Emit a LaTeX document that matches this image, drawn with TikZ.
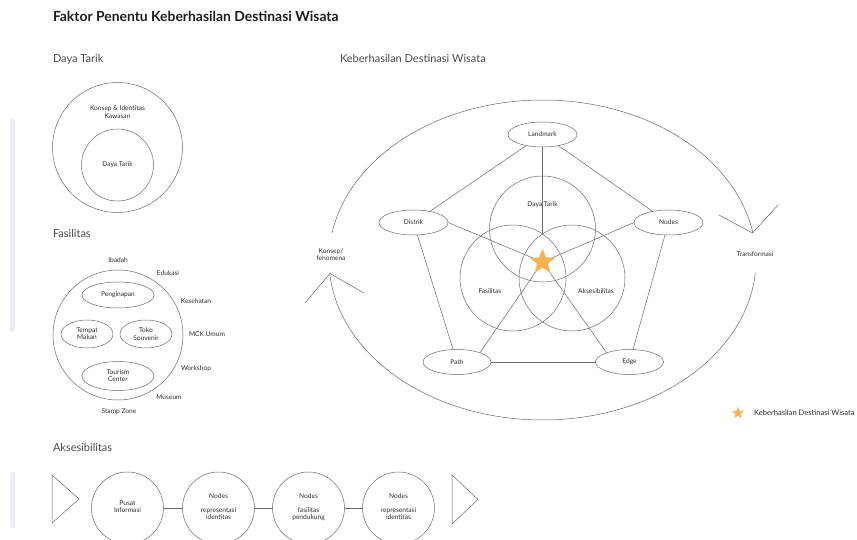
\documentclass[tikz,border=0pt]{standalone}
\usepackage{fontspec}
\setmainfont{Lato}
\usetikzlibrary{shapes.geometric}
\definecolor{linec}{HTML}{6A6A6A}
\definecolor{txtc}{HTML}{2E2E2E}
\definecolor{headc}{HTML}{4A4A4A}
\definecolor{titlec}{HTML}{1E1E1E}
\definecolor{starc}{HTML}{F7B452}
\definecolor{barc}{HTML}{EBEEF3}
\begin{document}
\begin{tikzpicture}[x=1pt,y=-1pt,
  every node/.style={inner sep=0pt, outer sep=0pt},
  ln/.style={draw=linec, line width=0.5pt},
  sm/.style={font=\fontsize{6.6}{7.2}\selectfont, text=txtc, align=center},
  head/.style={font=\fontsize{11}{13}\selectfont, text=headc, anchor=base west},
  ell/.style={ellipse, draw=linec, line width=0.5pt, sm, minimum width=69pt, minimum height=25pt},
  circ/.style={circle, draw=linec, line width=0.5pt},
  starshape/.style={star, star points=5, star point ratio=2.3, fill=starc, draw=none}
]
\useasboundingbox (0,0) rectangle (857,540);

% faint left bars
\fill[barc, rounded corners=2.5pt] (10,118) rectangle (15,332);
\fill[barc, rounded corners=2.5pt] (10,472) rectangle (15,528);

% title and headings
\node[anchor=base west, font=\bfseries\fontsize{13.9}{16}\selectfont, text=titlec] (title) at (53,22) {Faktor Penentu Keberhasilan Destinasi Wisata};
\node[head] (hDaya) at (53,63) {Daya Tarik};
\node[head] (hFas) at (53,238) {Fasilitas};
\node[head] (hAks) at (53,451) {Aksesibilitas};
\node[head] (hKeb) at (340,63) {Keberhasilan Destinasi Wisata};

% ---- Daya Tarik section
\node[circ, minimum size=130pt] (dtOuter) at (117.5,147.5) {};
\node[circ, minimum size=72pt] (dtInner) at (117.5,165) {};
\node[sm] (dtKonsep) at (117.5,112) {Konsep \& Identitas\\Kawasan};
\node[sm] (dtLabel) at (117.5,165) {Daya Tarik};

% ---- Fasilitas section
\node[circ, minimum size=130pt] (fasOuter) at (118,335) {};
\node[ell, minimum width=72pt, minimum height=26pt] (peng) at (118,295) {Penginapan};
\node[ell, minimum width=52pt, minimum height=28pt] (tempat) at (87,334) {Tempat\\Makan};
\node[ell, minimum width=52pt, minimum height=28pt] (toko) at (146,334) {Toko\\Souvenir};
\node[ell, minimum width=72pt, minimum height=29pt] (tourism) at (118,376) {Tourism\\Center};
\node[sm] (ibadah) at (118,260) {Ibadah};
\node[sm] (edukasi) at (168,273) {Edukasi};
\node[sm] (kesehatan) at (196,301) {Kesehatan};
\node[sm] (mck) at (207,334) {MCK Umum};
\node[sm] (workshop) at (196,369) {Workshop};
\node[sm] (museum) at (169,397) {Museum};
\node[sm] (stamp) at (119,412) {Stamp Zone};

% ---- Aksesibilitas section
\draw[ln] (52,475) -- (79,499) -- (52,523) -- cycle;
\draw[ln] (452,475) -- (478,499.5) -- (452,524) -- cycle;
\node[circ, minimum size=72pt] (a1) at (127.5,508) {};
\node[circ, minimum size=72pt] (a2) at (218.5,508) {};
\node[circ, minimum size=72pt] (a3) at (308.5,508) {};
\node[circ, minimum size=72pt] (a4) at (398.5,508) {};
\draw[ln] (a1.east) -- (a2.west);
\draw[ln] (a2.east) -- (a3.west);
\draw[ln] (a3.east) -- (a4.west);
\node[sm] (a1t) at (127.5,507) {Pusat\\Informasi};
\node[sm] (a2n) at (218.5,496) {Nodes};
\node[sm] (a2t) at (218.5,514) {representasi\\identitas};
\node[sm] (a3n) at (308.5,496) {Nodes};
\node[sm] (a3t) at (308.5,514) {fasilitas\\pendukung};
\node[sm] (a4n) at (398.5,496) {Nodes};
\node[sm] (a4t) at (398.5,514) {representasi\\identitas};

% ---- Main diagram
\node[circ, minimum size=106pt] (cDaya) at (542.5,229) {};
\node[circ, minimum size=106pt] (cFas) at (513,278) {};
\node[circ, minimum size=106pt] (cAks) at (572,278) {};
\node[sm] (lDaya) at (542.5,205) {Daya Tarik};
\node[sm] (lFas) at (490,291) {Fasilitas};
\node[sm] (lAks) at (596,291) {Aksesibilitas};

\node[ell] (landmark) at (542.5,134.5) {Landmark};
\node[ell] (distrik) at (413.5,222.5) {Distrik};
\node[ell] (nodes) at (668.5,222.5) {Nodes};
\node[ell, minimum width=68pt] (path) at (457,362) {Path};
\node[ell, minimum width=68pt] (edge) at (629.5,362) {Edge};

\coordinate (topint) at (542.5,234);
\coordinate (starcen) at (542.5,262);

\draw[ln] (landmark) -- (distrik);
\draw[ln] (landmark) -- (nodes);
\draw[ln] (distrik) -- (path);
\draw[ln] (nodes) -- (edge);
\draw[ln] (path) -- (edge);
\draw[ln] (landmark.south) -- (topint);
\draw[ln] (distrik.east) -- (starcen);
\draw[ln] (nodes.west) -- (starcen);
\draw[ln] (path.22) -- (starcen);
\draw[ln] (edge.158) -- (starcen);

\node[starshape, minimum size=26.5pt] (starMain) at (starcen) {};

% cycle arcs
\draw[ln] plot[domain=170.3:9.7, samples=120] ({542.5+213.5*cos(\x)},{260-160*sin(\x)});
\draw[ln] plot[domain=-4.7:-175.3, samples=120] ({542.5+213.5*cos(\x)},{260-160*sin(\x)});
\coordinate (trTip) at (752.5,233);
\coordinate (ksTip) at (330,273.5);
\draw[ln] (719,215) -- (trTip) -- (778,205);
\draw[ln] (305,303) -- (ksTip) -- (364,293);
\node[sm] (konsep) at (331,254.5) {Konsep/\\fenomena};
\node[sm] (transf) at (755,254) {Transformasi};

% legend
\node[starshape, minimum size=12.5pt] (starLeg) at (738,413) {};
\node[sm, anchor=west, font=\fontsize{7.6}{9}\selectfont] (legText) at (754,412.5) {Keberhasilan Destinasi Wisata};
\end{tikzpicture}
\end{document}
